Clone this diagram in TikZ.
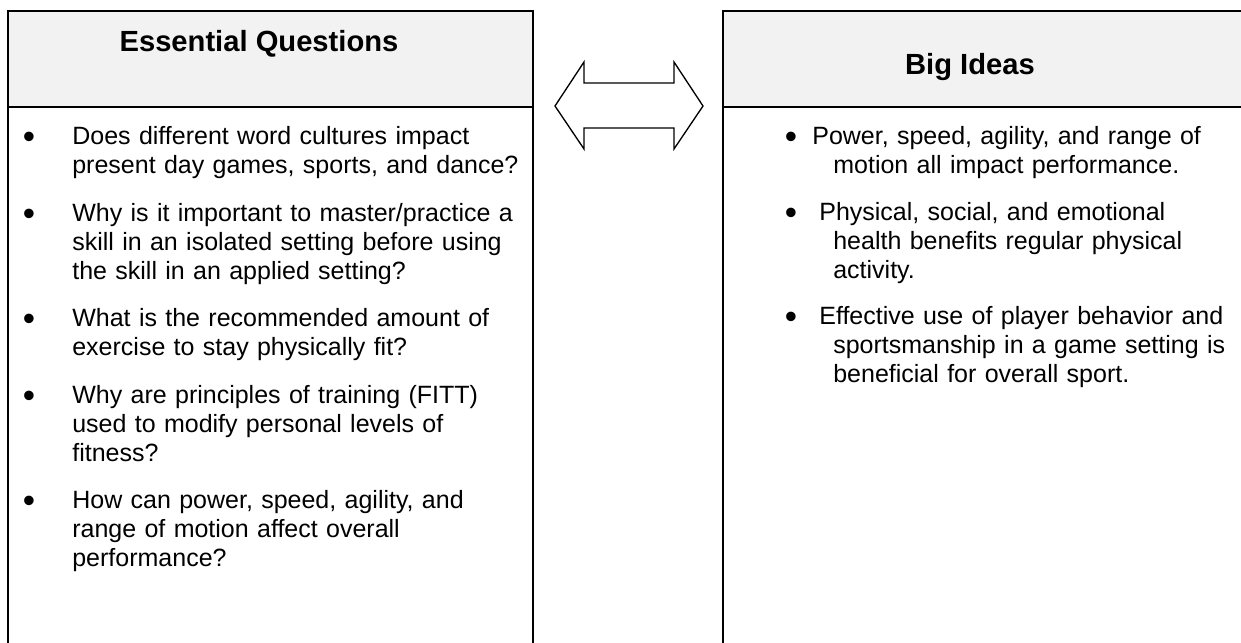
\documentclass[tikz,border=0pt]{standalone}
\usepackage{fontspec}
\setmainfont{Liberation Sans}
\usepackage{xcolor}
\definecolor{headgray}{HTML}{F2F2F2}

\tikzset{
    frame/.style = {draw = black, line width = 0.8pt},
    title/.style = {font = \fontsize{17.5}{21}\selectfont\bfseries, anchor = base, inner sep = 0pt},
    item/.style = {font = \fontsize{15}{17.4}\selectfont, anchor = base west, inner sep = 0pt, text width = 280pt, align = left},
    dot/.style = {font = \fontsize{21}{22}\selectfont, anchor = base, inner sep = 0pt}
}

\begin{document}
\begin{tikzpicture}[x = 0.6pt, y = -0.6pt]
        \useasboundingbox (0,0) rectangle (1241,643);
        \clip (0,0) rectangle (1241,643);
        \fill[headgray] (8,11) rectangle (533,107);
        \fill[headgray] (723,11) rectangle (1260,107);
        \draw[frame] (8,660) -- (8,11) -- (533,11) -- (533,660);
        \draw[frame] (723,660) -- (723,11) -- (1260,11);
        \draw[line width = 1pt] (8,107) -- (533,107);
        \draw[line width = 1pt] (723,107) -- (1260,107);
        \node[title] (eqtitle) at (259,52) {Essential Questions};
        \node[title] (bititle) at (970,75) {Big Ideas};
        \draw[frame, fill = white] (555,106) -- (584,62) -- (584,83) -- (674,83) -- (674,62) -- (703,106)
            -- (674,149) -- (674,128) -- (584,128) -- (584,149) -- cycle;
        \foreach \yy in {145,222,327,404,509}
            \node[dot] (eqdot\yy) at (29,\yy+4) {•};
        \node[item] (eq1) at (72,145) {Does different word cultures impact\\present day games, sports, and dance?};
        \node[item] (eq2) at (72,222) {Why is it important to master/practice a\\skill in an isolated setting before using\\the skill in an applied setting?};
        \node[item] (eq3) at (72,327) {What is the recommended amount of\\exercise to stay physically fit?};
        \node[item] (eq4) at (72,404) {Why are principles of training (FITT)\\used to modify personal levels of\\fitness?};
        \node[item] (eq5) at (72,509) {How can power, speed, agility, and\\range of motion affect overall\\performance?};
        \foreach \yy in {145,221,325}
            \node[dot] (bidot\yy) at (791,\yy+4) {•};
        \node[item] (bi1) at (812,145) {Power, speed, agility, and range of\\\hspace*{12.6pt}motion all impact performance.};
        \node[item] (bi2) at (819,221) {Physical, social, and emotional\\\hspace*{8.4pt}health benefits regular physical\\\hspace*{8.4pt}activity.};
        \node[item] (bi3) at (819,325) {Effective use of player behavior and\\\hspace*{8.4pt}sportsmanship in a game setting is\\\hspace*{8.4pt}beneficial for overall sport.};
    \end{tikzpicture}
\end{document}
